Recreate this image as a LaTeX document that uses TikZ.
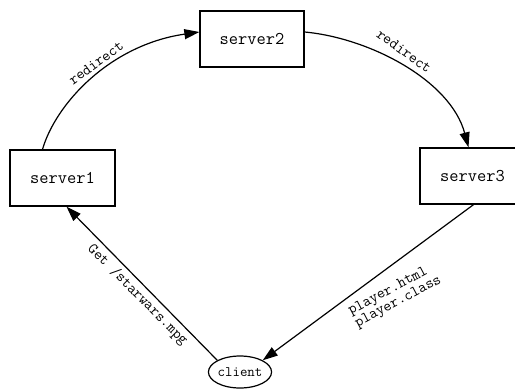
\documentclass[tikz,border=0pt]{standalone}
\usepackage{fontspec}
\usetikzlibrary{shapes.geometric,arrows.meta}
\begin{document}
\begin{tikzpicture}[x=1bp,y=-1bp,
  srv/.style={draw,line width=1.3bp,rectangle,minimum width=105bp,minimum height=56bp,inner sep=0pt,font=\ttfamily\fontsize{18}{20}\selectfont},
  cli/.style={draw,line width=1.2bp,ellipse,minimum width=55bp,minimum height=32bp,inner sep=0pt,font=\ttfamily\fontsize{14.5}{16}\selectfont},
  lbl/.style={inner sep=0pt,font=\ttfamily\fontsize{15.5}{14}\selectfont},
  arr/.style={line width=1.2bp,-{Triangle[length=15bp,width=10bp]}}]
\useasboundingbox (0,0) rectangle (515,389);
\node[srv] (s1) at (62.5,178) {server1};
\node[srv,minimum width=104bp] (s2) at (252,39) {server2};
\node[srv] (s3) at (472.5,176) {server3};
\node[cli] (client) at (240,372) {client};
\draw[arr] ([xshift=-20bp]s1.north) .. controls +(13,-45) and +(-90,13) .. ([yshift=7bp]s2.west);
\draw[arr] ([yshift=7bp]s2.east) .. controls +(65,6) and +(-18,-67) .. ([xshift=-4bp]s3.north);
\draw[arr] (client.north west) -- ([xshift=4bp]s1.south);
\draw[arr] ([xshift=1bp]s3.south) -- (client.north east);
\node[lbl,rotate=36] (r1) at (96,63) {redirect};
\node[lbl,rotate=-36] (r2) at (404,51) {redirect};
\node[lbl,rotate=-45] (get) at (137.5,295) {Get /starwars.mpg};
\node[lbl,rotate=28,align=left] (play) at (395,296) {player.html\\player.class};
\end{tikzpicture}
\end{document}
